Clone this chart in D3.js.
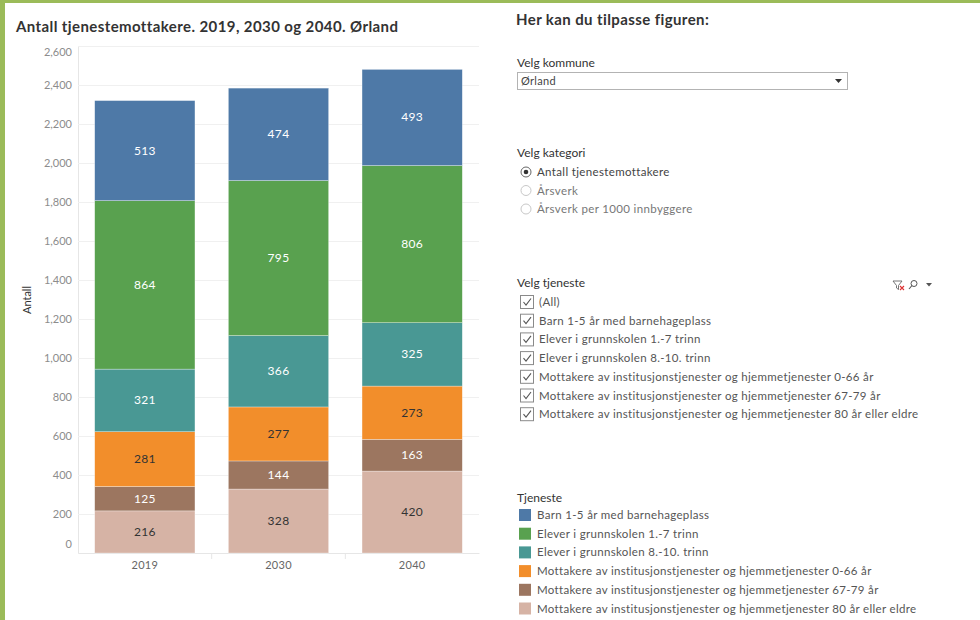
<!DOCTYPE html>
<html><head><meta charset="utf-8">
<script src="https://cdn.jsdelivr.net/npm/d3@7"></script>
<style>
body{margin:0;background:#fff;}
svg{display:block;font-family:Lato,"Open Sans",sans-serif;}
</style></head>
<body><svg id="c" width="980" height="620"></svg>
<script>
const years = ["2019","2030","2040"];
const services = [
  "Barn 1-5 år med barnehageplass",
  "Elever i grunnskolen 1.-7 trinn",
  "Elever i grunnskolen 8.-10. trinn",
  "Mottakere av institusjonstjenester og hjemmetjenester 0-66 år",
  "Mottakere av institusjonstjenester og hjemmetjenester 67-79 år",
  "Mottakere av institusjonstjenester og hjemmetjenester 80 år eller eldre"
];
const barn = [513,474,493];
const elever17 = [864,795,806];
const elever810 = [321,366,325];
const mott066 = [281,277,273];
const mott6779 = [125,144,163];
const mott80 = [216,328,420];
const yTicks = [0,200,400,600,800,1000,1200,1400,1600,1800,2000,2200,2400,2600];
const colors = ["#4e79a7","#59a14f","#499894","#f28e2b","#9c7660","#d6b3a5"];
const labelColors = ["#fff","#fff","#fff","#333","#fff","#333"];
const categories = ["Antall tjenestemottakere","Årsverk","Årsverk per 1000 innbyggere"];

const seriesVals = [barn,elever17,elever810,mott066,mott6779,mott80];
const rows = years.map((y,i)=>{const r={year:y}; services.forEach((s,k)=>r[s]=seriesVals[k][i]); return r;});
const order = services.slice().reverse();
const stacked = d3.stack().keys(order)(rows);

const svg = d3.select("#c");
svg.append("rect").attr("width",980).attr("height",620).attr("fill","#fff");
const green = "#9bbb59";
svg.append("rect").attr("x",0).attr("y",0).attr("width",980).attr("height",3).attr("fill",green);
svg.append("rect").attr("x",0).attr("y",0).attr("width",5).attr("height",620).attr("fill",green);

svg.append("text").attr("x",16).attr("y",32).attr("font-size",15).attr("font-weight","bold")
  .attr("letter-spacing",0.4).attr("fill","#333").text("Antall tjenestemottakere. 2019, 2030 og 2040. Ørland");

const x = d3.scaleBand().domain(years).range([78,479]).paddingInner(0.25).paddingOuter(0.125);
const y = d3.scaleLinear().domain([0,2600]).range([553,46]);

const gy = svg.append("g").attr("transform","translate(78,0)")
  .call(d3.axisLeft(y).tickValues(yTicks).tickFormat(d3.format(",")).tickSize(-401).tickPadding(6));
gy.select(".domain").attr("stroke","#e6e6e6");
gy.selectAll(".tick line").attr("stroke","#f0f0f0");
gy.selectAll(".tick text").attr("fill","#8c8c8c").attr("font-size",11).attr("font-family","Lato,sans-serif")
  .attr("dy",d=>d===0?"-0.5em":(d===2600?"0.9em":"0.32em"));

const gx = svg.append("g").attr("transform","translate(0,553)")
  .call(d3.axisBottom(x).tickSize(0).tickPadding(8));
gx.select(".domain").attr("stroke","#e6e6e6");
gx.selectAll(".tick text").attr("fill","#666").attr("font-size",11).attr("font-family","Lato,sans-serif").attr("letter-spacing",0.3);
const step = x.step();
[1,2].forEach(i=>{
  const xx = x.range()[0]+step*i;
  svg.append("line").attr("x1",xx).attr("x2",xx).attr("y1",553).attr("y2",559).attr("stroke","#e6e6e6");
});

svg.append("text").attr("transform","translate(31,300) rotate(-90)").attr("text-anchor","middle")
  .attr("font-size",11).attr("fill","#333").text("Antall");

const layers = svg.append("g").selectAll("g").data(stacked).join("g")
  .attr("fill",d=>colors[services.indexOf(d.key)]);
layers.selectAll("rect").data(d=>d).join("rect")
  .attr("x",d=>x(d.data.year)).attr("width",x.bandwidth())
  .attr("y",d=>y(d[1])).attr("height",d=>y(d[0])-y(d[1]))
  .attr("stroke","#fff").attr("stroke-width",0.6).attr("stroke-opacity",0.5);
const lab = svg.append("g").selectAll("g").data(stacked).join("g")
  .attr("fill",d=>labelColors[services.indexOf(d.key)]);
lab.selectAll("text").data(d=>d).join("text")
  .attr("x",d=>x(d.data.year)+x.bandwidth()/2).attr("y",d=>(y(d[0])+y(d[1]))/2+4)
  .attr("text-anchor","middle").attr("font-size",12).attr("letter-spacing",0.3).text(d=>d[1]-d[0]);

const P = svg.append("g");
P.append("text").attr("x",516).attr("y",25).attr("font-size",15).attr("font-weight","bold").attr("fill","#333")
  .attr("letter-spacing",0.4).text("Her kan du tilpasse figuren:");
P.append("text").attr("x",517).attr("y",67).attr("font-size",12).attr("fill","#333").text("Velg kommune");
P.append("rect").attr("x",517.5).attr("y",72.5).attr("width",330).attr("height",17).attr("fill","#fff").attr("stroke","#b3b3b3");
P.append("text").attr("x",521).attr("y",85).attr("font-size",11).attr("fill","#444").attr("letter-spacing",0.3).text("Ørland");
P.append("path").attr("d","M835,79 l7,0 l-3.5,4 z").attr("fill","#333");

P.append("text").attr("x",517).attr("y",157).attr("font-size",12).attr("fill","#333").text("Velg kategori");
categories.forEach((c,i)=>{
  const cy = 172+i*18.5;
  P.append("circle").attr("cx",526).attr("cy",cy).attr("r",5).attr("fill","#fff").attr("stroke",i===0?"#666":"#c8c8c8");
  if(i===0) P.append("circle").attr("cx",526).attr("cy",cy).attr("r",2.3).attr("fill","#333");
  P.append("text").attr("x",537).attr("y",cy+4).attr("font-size",11.5).attr("letter-spacing",0.35)
    .attr("fill",i===0?"#444":"#777").text(c);
});

P.append("text").attr("x",517).attr("y",287).attr("font-size",12).attr("fill","#333").text("Velg tjeneste");
P.append("path").attr("d","M893,281 l9,0 l-3.5,4.5 l0,4 l-2,-1.5 l0,-2.5 z").attr("fill","none").attr("stroke","#666").attr("stroke-width",0.9);
P.append("path").attr("d","M900,286 l4,4 M904,286 l-4,4").attr("stroke","#d33").attr("stroke-width",1.1);
P.append("circle").attr("cx",914).attr("cy",283.5).attr("r",3).attr("fill","none").attr("stroke","#555").attr("stroke-width",1);
P.append("path").attr("d","M912,285.5 l-3,3.5").attr("stroke","#555").attr("stroke-width",1.1);
P.append("path").attr("d","M926,283 l6,0 l-3,3.5 z").attr("fill","#555");
const checks = ["(All)"].concat(services);
checks.forEach((c,i)=>{
  const cy = 302+i*18.7;
  P.append("rect").attr("x",520.5).attr("y",cy-6.5).attr("width",13).attr("height",13).attr("fill","#fff").attr("stroke","#8a8a8a");
  P.append("path").attr("d",`M523.5,${cy} l2.5,3 l5,-6.5`).attr("fill","none").attr("stroke","#555").attr("stroke-width",1.1);
  P.append("text").attr("x",539).attr("y",cy+4).attr("font-size",11.5).attr("letter-spacing",0.33).attr("fill","#555").text(c);
});

P.append("text").attr("x",517).attr("y",502).attr("font-size",12).attr("fill","#333").text("Tjeneste");
services.forEach((s,i)=>{
  const cy = 515+i*18.7;
  P.append("rect").attr("x",519).attr("y",cy-6).attr("width",12).attr("height",12).attr("fill",colors[i]);
  P.append("text").attr("x",537).attr("y",cy+4).attr("font-size",11.5).attr("letter-spacing",0.33).attr("fill","#555").text(s);
});
</script></body></html>
